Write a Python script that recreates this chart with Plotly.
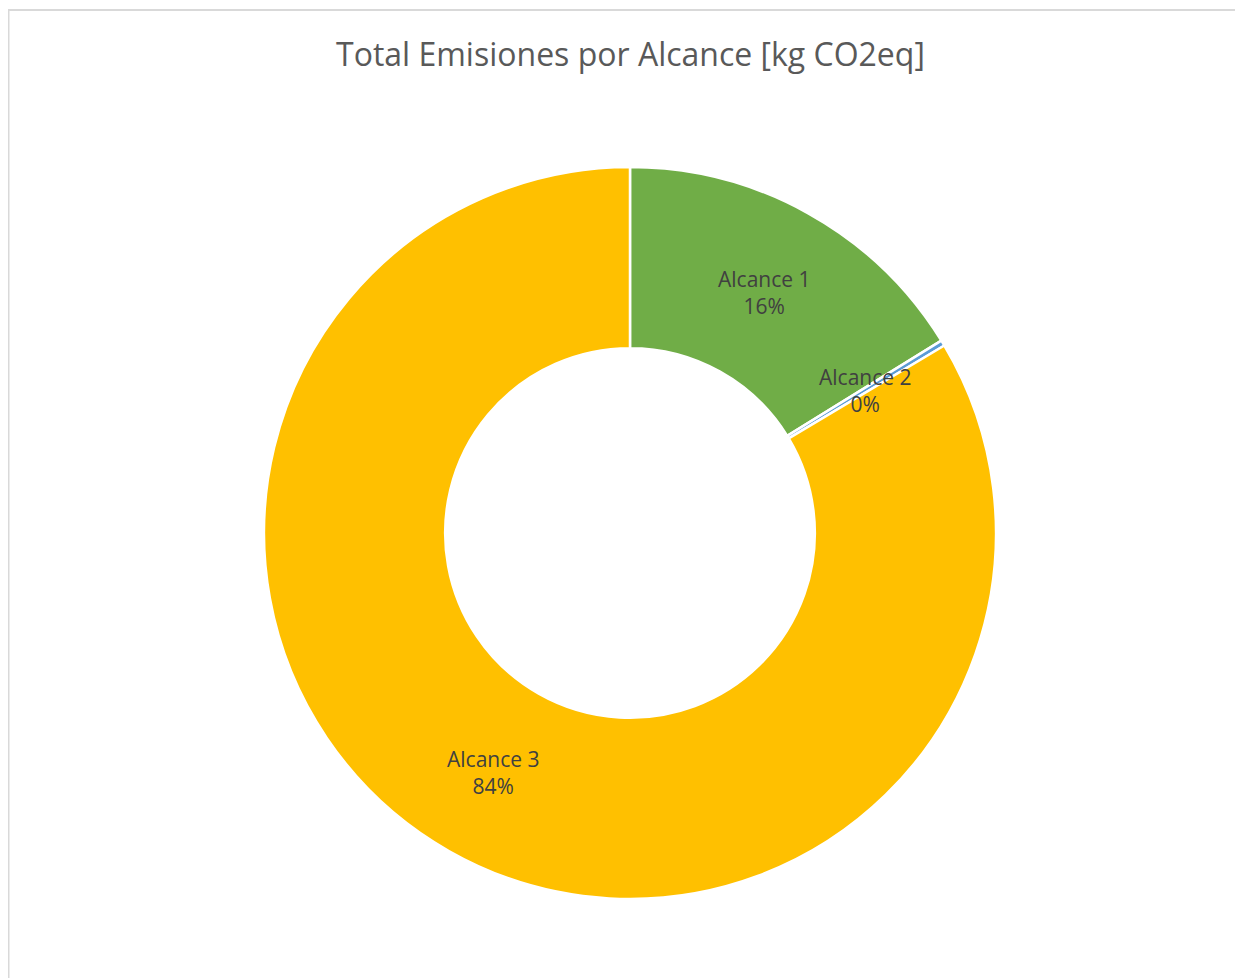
import math
import plotly.graph_objects as go

categories = ["Alcance 1", "Alcance 2", "Alcance 3"]
values = [16.2, 0.25, 83.6]
colors = ["#70AD47", "#5B9BD5", "#FFC000"]
title_text = "Total Emisiones por Alcance [kg CO2eq]"

# page has an 8px body margin; work in figure pixels = page pixels - 8
OFF = 8
W, H = 1243 - OFF, 978 - OFF
cx, cy, R = 630 - OFF, 533 - OFF, 366
hole = 0.505

fig = go.Figure()
fig.add_trace(go.Pie(
    labels=categories,
    values=values,
    hole=hole,
    sort=False,
    direction="clockwise",
    rotation=0,
    textinfo="none",
    hoverinfo="label+percent",
    marker=dict(colors=colors, line=dict(color="white", width=2.5)),
    domain=dict(x=[(cx - R) / W, (cx + R) / W], y=[1 - (cy + R) / H, 1 - (cy - R) / H]),
    showlegend=False,
))

# data labels at mid-ring, computed from the values
total = sum(values)
r_lab = R * (1 + hole) / 2
cum = 0.0
annotations = []
for cat, v in zip(categories, values):
    mid = (cum + v / 2) / total * 2 * math.pi
    cum += v
    px = cx + r_lab * math.sin(mid)
    py = cy - r_lab * math.cos(mid)
    pct = round(v / total * 100)
    annotations.append(dict(
        x=px / W, y=1 - py / H, xref="paper", yref="paper",
        text=f"{cat}<br>{pct}%", showarrow=False,
        font=dict(family="Open Sans", size=21, color="#404040"),
        xanchor="center", yanchor="middle", align="center",
    ))

annotations.append(dict(
    x=(630 - OFF) / W, y=1 - (53 - OFF) / H, xref="paper", yref="paper",
    text=title_text, showarrow=False,
    font=dict(family="Open Sans", size=32, color="#595959"),
    xanchor="center", yanchor="middle",
))

fig.update_layout(
    width=W, height=H,
    margin=dict(l=0, r=0, t=0, b=0),
    paper_bgcolor="white",
    plot_bgcolor="white",
    annotations=annotations,
    shapes=[dict(type="rect", xref="paper", yref="paper",
                 x0=0.5 / W, x1=1.05, y0=-0.05, y1=1 - 2 / H,
                 line=dict(color="#D9D9D9", width=2), fillcolor="rgba(0,0,0,0)")],
)

fig.write_html("out.html")
